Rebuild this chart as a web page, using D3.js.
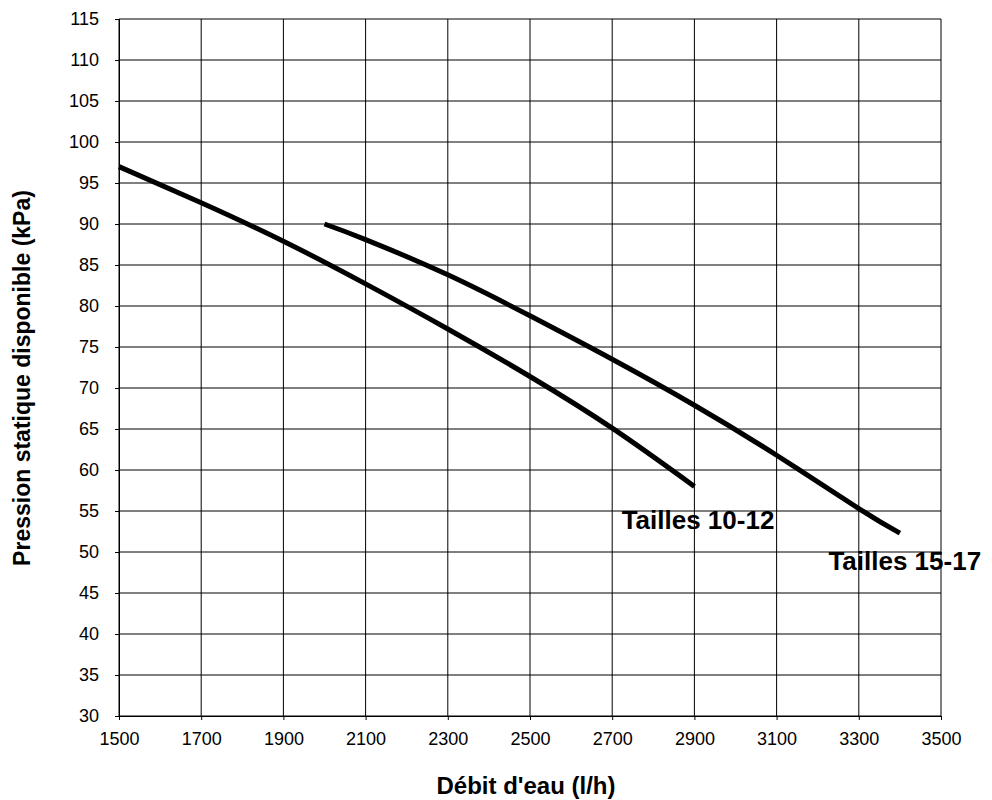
<!DOCTYPE html>
<html>
<head>
<meta charset="utf-8">
<script src="https://cdn.jsdelivr.net/npm/d3@7"></script>
<style>
  html, body { margin: 0; padding: 0; background: #fff; }
  svg { display: block; }
</style>
</head>
<body>
<svg id="chart" width="992" height="800"></svg>
<script>
// ---- Data ----
const xTicks = [1500, 1700, 1900, 2100, 2300, 2500, 2700, 2900, 3100, 3300, 3500];
const yTicks = [30, 35, 40, 45, 50, 55, 60, 65, 70, 75, 80, 85, 90, 95, 100, 105, 110, 115];

const flow1012 = [1500, 1700, 1900, 2100, 2300, 2500, 2700, 2900];
const press1012 = [97, 92.6, 87.9, 82.7, 77.2, 71.4, 65.1, 58.0];

const flow1517 = [2000, 2100, 2300, 2500, 2700, 2900, 3100, 3300, 3400];
const press1517 = [90, 88.1, 83.8, 78.8, 73.5, 67.9, 61.8, 55.3, 52.3];

const seriesNames = ["Tailles 10-12", "Tailles 15-17"];
const labelFlow = [2723, 3226];
const labelPress = [52.8, 47.8];

const xTitle = "Débit d'eau (l/h)";
const yTitle = "Pression statique disponible (kPa)";

// ---- Layout ----
const svg = d3.select("#chart");
const mLeft = 119, mRight = 941, mTop = 19, mBottom = 716;
const font = "'Liberation Sans', Arial, sans-serif";

const x = d3.scaleLinear().domain([1500, 3500]).range([mLeft, mRight]);
const y = d3.scaleLinear().domain([30, 115]).range([mBottom, mTop]);

// Grid
const grid = svg.append("g").attr("stroke", "#000").attr("stroke-width", 1);
grid.selectAll("line.h").data(yTicks).join("line")
  .attr("class", "h")
  .attr("x1", mLeft).attr("x2", mRight)
  .attr("y1", d => y(d)).attr("y2", d => y(d));
grid.selectAll("line.v").data(xTicks).join("line")
  .attr("class", "v")
  .attr("y1", mTop).attr("y2", mBottom)
  .attr("x1", d => x(d)).attr("x2", d => x(d));

// Axes
const xAxis = svg.append("g")
  .attr("transform", `translate(0,${mBottom})`)
  .call(d3.axisBottom(x).tickValues(xTicks).tickSize(4).tickPadding(12).tickFormat(d3.format("d")));
const yAxis = svg.append("g")
  .attr("transform", `translate(${mLeft},0)`)
  .call(d3.axisLeft(y).tickValues(yTicks).tickSize(4).tickPadding(16).tickFormat(d3.format("d")));
[xAxis, yAxis].forEach(a => {
  a.selectAll("path.domain").attr("stroke", "#000");
  a.selectAll(".tick line").attr("stroke", "#000");
  a.selectAll("text").attr("fill", "#000")
    .style("font-family", font).style("font-size", "18px");
});

// Curves
const line = d3.line().x(d => x(d[0])).y(d => y(d[1])).curve(d3.curveNatural);
const series = [
  d3.zip(flow1012, press1012),
  d3.zip(flow1517, press1517)
];
svg.append("g").selectAll("path").data(series).join("path")
  .attr("d", line)
  .attr("fill", "none")
  .attr("stroke", "#000")
  .attr("stroke-width", 5)
  .attr("stroke-linejoin", "round");

// Series labels
svg.append("g").selectAll("text").data(seriesNames).join("text")
  .attr("x", (d, i) => x(labelFlow[i]))
  .attr("y", (d, i) => y(labelPress[i]))
  .style("font-family", font).style("font-size", "26px").style("font-weight", "bold")
  .attr("fill", "#000")
  .text(d => d);

// Axis titles
svg.append("text")
  .attr("x", 526).attr("y", 794)
  .attr("text-anchor", "middle")
  .style("font-family", font).style("font-size", "24px").style("font-weight", "bold")
  .text(xTitle);
svg.append("text")
  .attr("transform", "translate(30,378) rotate(-90)")
  .attr("text-anchor", "middle")
  .style("font-family", font).style("font-size", "23px").style("font-weight", "bold")
  .text(yTitle);
</script>
</body>
</html>
